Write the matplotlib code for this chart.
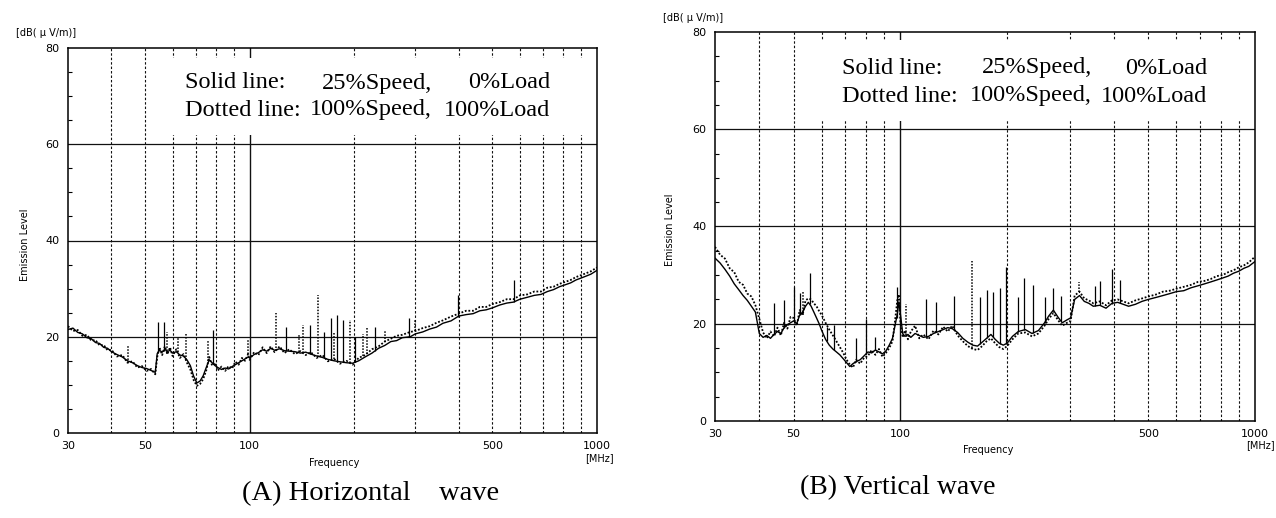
import numpy as np
import matplotlib
matplotlib.use("Agg")
from matplotlib import pyplot as plt
from matplotlib.patches import Rectangle

W, H = 1276, 518

# ---- (A) horizontal wave ----
H_FREQ = [30, 31, 32, 33, 34, 35, 36, 37, 38, 39,
          40, 41.5, 43, 44.5, 46, 47.5, 49, 50.5, 52, 53.5,
          54.2, 55, 56, 57, 58, 59, 60, 61.5, 63, 64.5,
          66, 67.5, 69, 70.5, 72, 73.5, 75, 76.5, 78, 79.5,
          81, 83, 85, 87, 89, 91, 93, 95, 97, 99,
          100, 103, 106, 109, 112, 115, 118, 122, 126, 130,
          135, 140, 145, 150, 156, 162, 168, 175, 182, 190,
          198, 206, 215, 225, 235, 245, 255, 265, 275, 290,
          300, 315, 330, 345, 360, 380, 400, 420, 440, 460,
          480, 500, 525, 550, 575, 600, 630, 660, 690, 720,
          750, 780, 810, 840, 870, 900, 930, 960, 1000]
H_SOLID = [21.5, 21.8, 20.9, 20.6, 19.8, 19.6, 18.8, 18.6, 17.8, 17.6,
           16.9, 16.3, 15.8, 15.0, 14.6, 14.0, 13.6, 13.4, 13.0, 12.6,
           16.5, 17.2, 16.8, 17.4, 16.9, 17.2, 16.6, 16.9, 16.2, 16.0,
           15.2, 14.0, 11.8, 10.4, 10.8, 11.9, 13.6, 15.2, 14.6, 14.0,
           13.6, 13.2, 13.5, 13.3, 13.8, 14.2, 14.6, 15.0, 15.4, 15.8,
           15.6, 16.3, 16.7, 17.3, 17.0, 17.6, 17.2, 17.5, 17.1, 17.0,
           16.9, 16.6, 16.8, 16.4, 16.0, 15.7, 15.3, 15.0, 14.8, 14.6,
           14.5, 15.0, 15.8, 16.6, 17.6, 18.2, 19.0, 19.2, 19.8, 20.0,
           20.6, 21.0, 21.6, 22.0, 22.8, 23.3, 24.3, 24.6, 24.8, 25.4,
           25.6, 26.0, 26.6, 27.0, 27.2, 27.8, 28.2, 28.6, 28.8, 29.4,
           29.8, 30.4, 30.8, 31.2, 31.8, 32.2, 32.6, 33.0, 33.8]
H_DOTTED = [22.2, 21.2, 21.4, 20.2, 20.4, 19.2, 19.3, 18.2, 18.3, 17.2,
            17.3, 15.9, 16.2, 14.6, 14.9, 13.6, 13.9, 12.9, 13.3, 12.2,
            15.8, 17.8, 16.2, 18.0, 16.4, 17.8, 16.0, 17.4, 15.6, 16.4,
            14.6, 13.2, 11.0, 9.8, 10.2, 11.2, 13.0, 15.8, 14.0, 14.6,
            13.0, 13.8, 12.9, 13.9, 13.4, 14.8, 14.2, 15.6, 15.0, 16.4,
            15.2, 16.8, 16.2, 17.8, 16.6, 18.0, 16.8, 18.0, 16.6, 17.4,
            16.4, 17.0, 16.2, 16.8, 15.6, 16.2, 14.9, 15.4, 14.4, 15.0,
            14.2, 15.6, 16.2, 17.4, 18.0, 19.0, 19.6, 20.2, 20.4, 21.0,
            21.2, 21.8, 22.2, 22.9, 23.4, 24.2, 24.8, 25.4, 25.4, 26.2,
            26.2, 26.8, 27.2, 27.8, 27.8, 28.6, 28.8, 29.4, 29.4, 30.2,
            30.4, 31.0, 31.4, 31.8, 32.4, 32.8, 33.2, 33.6, 34.4]
H_SPIKE_SOLID_F = [54.5, 56.5, 78.5, 127, 149, 164, 171, 178, 185.5, 201, 230, 288, 398, 575]
H_SPIKE_SOLID_TOP = [23, 23, 21.5, 22, 22.5, 21, 24, 24.5, 23.5, 20, 22, 24, 28.6, 31.7]
H_SPIKE_DOT_F = [44.7, 58, 62, 65.5, 76, 99, 119, 139, 142, 157, 175, 194, 212, 217, 245, 300]
H_SPIKE_DOT_TOP = [18, 21, 20, 20.5, 19.3, 19.5, 25, 20.5, 22.5, 28.6, 21, 23.5, 20.5, 22, 21.5, 23.5]

# ---- (B) vertical wave ----
V_FREQ = [30, 31, 32, 33, 34, 35, 36, 37, 38, 39,
          40, 41, 42, 43, 44, 45, 46, 47, 48, 49,
          50, 51, 52, 53, 54, 55, 56, 57, 58, 59,
          60, 61.5, 63, 64.5, 66, 67.5, 69, 70.5, 72, 73.5,
          75, 77, 79, 81, 83, 85, 87, 89, 91, 93,
          95, 96.5, 98, 99, 100, 101.5, 103, 105, 107, 110,
          113, 116, 120, 124, 128, 132, 136, 140, 145, 150,
          155, 160, 165, 170, 175, 180, 185, 190, 195, 200,
          207, 215, 225, 235, 245, 255, 262, 270, 278, 286,
          295, 302, 310, 320, 330, 340, 350, 365, 380, 395,
          410, 425, 440, 460, 480, 500, 525, 550, 575, 600,
          630, 660, 690, 720, 750, 780, 810, 840, 870, 900,
          930, 960, 1000]
V_SOLID = [33.5, 32.5, 31.2, 29.8, 28.2, 27.0, 25.8, 24.8, 23.6, 22.4,
           18.0, 17.2, 17.6, 17.0, 17.8, 18.4, 18.0, 19.2, 19.8, 20.2,
           20.6, 20.0, 21.8, 22.4, 23.6, 24.4, 23.6, 22.4, 21.2, 20.0,
           18.6, 16.8, 15.6, 14.8, 14.2, 13.6, 12.8, 12.0, 11.2, 11.8,
           12.2, 12.6, 13.4, 14.2, 14.0, 14.6, 14.2, 13.8, 14.4, 15.6,
           17.0, 19.5, 22.0, 24.5, 22.0, 18.0, 17.4, 17.8, 17.2, 18.0,
           17.6, 17.2, 17.4, 18.0, 18.4, 18.8, 19.2, 19.0, 18.2, 17.0,
           16.2, 15.6, 15.4, 16.2, 17.0, 17.8, 16.8, 16.0, 15.6, 16.0,
           17.4, 18.4, 18.8, 18.0, 18.6, 20.2, 21.6, 22.8, 21.4, 20.2,
           20.8, 21.2, 25.0, 25.8, 24.6, 24.2, 23.6, 23.8, 23.2, 24.2,
           24.4, 24.0, 23.6, 24.0, 24.6, 25.0, 25.4, 25.8, 26.2, 26.6,
           26.8, 27.4, 27.8, 28.2, 28.6, 29.0, 29.4, 29.8, 30.4, 30.8,
           31.4, 31.8, 32.8]
V_DOTTED = [35.8, 34.2, 33.4, 31.4, 30.6, 28.6, 28.0, 26.2, 25.6, 23.8,
            21.0, 18.2, 17.0, 18.4, 17.4, 19.2, 17.6, 20.2, 19.0, 21.4,
            21.2, 19.6, 22.8, 21.8, 24.8, 25.2, 25.0, 24.2, 23.6, 22.6,
            21.8, 20.2, 18.8, 17.6, 16.4, 15.2, 14.0, 12.6, 11.6, 11.0,
            12.6, 11.8, 13.0, 13.4, 14.6, 13.6, 14.8, 13.2, 14.0, 15.0,
            16.4, 20.4, 24.8, 26.0, 20.4, 17.2, 18.6, 16.8, 18.4, 19.6,
            17.0, 17.8, 16.8, 18.6, 17.8, 19.4, 18.4, 19.6, 17.6, 16.4,
            15.4, 14.8, 14.6, 15.4, 16.4, 17.0, 16.0, 15.2, 14.8, 15.4,
            16.8, 18.0, 18.2, 17.4, 18.0, 19.6, 21.0, 22.2, 20.8, 19.6,
            20.2, 20.6, 25.8, 26.6, 25.2, 24.8, 24.2, 24.6, 23.8, 24.8,
            25.0, 24.6, 24.2, 24.8, 25.2, 25.6, 26.0, 26.6, 26.8, 27.2,
            27.6, 28.0, 28.6, 28.8, 29.2, 29.8, 30.0, 30.6, 31.0, 31.6,
            32.0, 32.6, 33.8]
V_SPIKE_SOLID_F = [44, 47, 50, 52, 55.5, 62, 65, 75, 80, 85, 97.5, 118, 126, 142,
                   168, 175, 183, 191, 198, 214, 223, 236, 255, 269, 284, 354, 366, 394, 417]
V_SPIKE_SOLID_TOP = [24.2, 24.9, 27.6, 26.3, 30.4, 19.3, 19.7, 17, 21, 17.3, 27.5, 25, 24.5, 25.7,
                     25.5, 27, 26.5, 27.3, 31.7, 25.6, 29.5, 28, 25.6, 27.3, 25.8, 27.7, 28.8, 31.3, 29]
V_SPIKE_DOT_F = [53, 104, 159, 318]
V_SPIKE_DOT_TOP = [26.5, 24, 33, 28.6]

X_TICKS = [30, 50, 100, 500, 1000]
Y_TICKS = [0, 20, 40, 60, 80]
DASHED_X = [40, 50, 60, 70, 80, 90, 200, 300, 400, 500, 600, 700, 800, 900]

SANS = 'DejaVu Sans'
SERIF = 'Liberation Serif'


def px(x, y):
    return x / W, 1 - y / H


def draw_panel(rect, freq, solid, dotted, ss_f, ss_top, ds_f, ds_top, box):
    ax = fig.add_axes(rect)
    ax.set_xscale('log')
    ax.set_xlim(30, 1000)
    ax.set_ylim(0, 80)

    for y in [20, 40, 60]:
        ax.axhline(y, color='#111111', lw=0.9, zorder=1)
    for x in DASHED_X:
        ax.axvline(x, color='#111111', lw=0.8, ls=(0, (2.2, 1.8)), zorder=1)
    ax.axvline(100, color='#111111', lw=1.0, zorder=1)

    ax.plot(freq, dotted, color='black', lw=1.3, ls=(0, (1, 1)), zorder=2)
    ax.plot(freq, solid, color='black', lw=1.0, zorder=2)
    ax.vlines(ss_f, np.interp(np.log(ss_f), np.log(freq), solid), ss_top,
              color='black', lw=0.9, zorder=2)
    ax.vlines(ds_f, np.interp(np.log(ds_f), np.log(freq), dotted), ds_top,
              color='black', lw=1.1, linestyles=(0, (1, 1)), zorder=2)

    # white box behind the legend text
    ax.add_patch(Rectangle((box[0], box[1]), box[2], box[3], transform=ax.transAxes,
                           facecolor='white', edgecolor='none', zorder=3))

    ax.set_xticks(X_TICKS)
    ax.set_xticklabels([str(t) for t in X_TICKS])
    ax.xaxis.set_minor_locator(matplotlib.ticker.NullLocator())
    ax.set_yticks(Y_TICKS)
    ax.set_yticks(np.arange(0, 81, 5), minor=True)
    ax.tick_params(axis='both', which='major', length=0, labelsize=8, pad=6)
    ax.tick_params(axis='y', which='minor', direction='in', length=3, width=0.8)
    for lab in ax.get_xticklabels() + ax.get_yticklabels():
        lab.set_family(SANS)
    for s in ax.spines.values():
        s.set_linewidth(1.1)
        s.set_zorder(5)
    return ax


fig = plt.figure(figsize=(W / 100, H / 100), dpi=100)

ax1 = draw_panel([68 / W, 1 - 433 / H, 529 / W, 385 / H], H_FREQ, H_SOLID, H_DOTTED,
                 H_SPIKE_SOLID_F, H_SPIKE_SOLID_TOP, H_SPIKE_DOT_F, H_SPIKE_DOT_TOP,
                 (0.19, 0.775, 0.80, 0.2))
ax2 = draw_panel([715 / W, 1 - 421 / H, 540 / W, 389 / H], V_FREQ, V_SOLID, V_DOTTED,
                 V_SPIKE_SOLID_F, V_SPIKE_SOLID_TOP, V_SPIKE_DOT_F, V_SPIKE_DOT_TOP,
                 (0.19, 0.77, 0.80, 0.21))

# legend texts
for (x0, c2, c3, y1, y2) in [(185, 432, 550, 83, 110), (842, 1092, 1207, 68, 96)]:
    kw = dict(family=SERIF, fontsize=17.5, va='center', zorder=6)
    fig.text(*px(x0, y1), 'Solid line:', ha='left', **kw)
    fig.text(*px(c2, y1), '25%Speed,', ha='right', **kw)
    fig.text(*px(c3, y1), '0%Load', ha='right', **kw)
    fig.text(*px(x0, y2), 'Dotted line:', ha='left', **kw)
    fig.text(*px(c2, y2), '100%Speed,', ha='right', **kw)
    fig.text(*px(c3, y2), '100%Load', ha='right', **kw)

# axis annotations
fig.text(*px(46, 33), '[dB( \u03bc V/m)]', family=SANS, fontsize=7, ha='center', va='center')
fig.text(*px(693, 18), '[dB( \u03bc V/m)]', family=SANS, fontsize=7, ha='center', va='center')
fig.text(*px(25, 245), 'Emission Level', family=SANS, fontsize=7, rotation=90, ha='center', va='center')
fig.text(*px(670, 230), 'Emission Level', family=SANS, fontsize=7, rotation=90, ha='center', va='center')
fig.text(*px(334, 463), 'Frequency', family=SANS, fontsize=7, ha='center', va='center')
fig.text(*px(988, 450), 'Frequency', family=SANS, fontsize=7, ha='center', va='center')
fig.text(*px(599, 458), '[MHz]', family=SANS, fontsize=7, ha='center', va='center')
fig.text(*px(1260, 445), '[MHz]', family=SANS, fontsize=7, ha='center', va='center')

# captions
fig.text(*px(242, 494), '(A) Horizontal    wave', family=SERIF, fontsize=20.5, ha='left', va='center')
fig.text(*px(800, 488), '(B) Vertical wave', family=SERIF, fontsize=20, ha='left', va='center')

fig.savefig('out.png', dpi=100)
